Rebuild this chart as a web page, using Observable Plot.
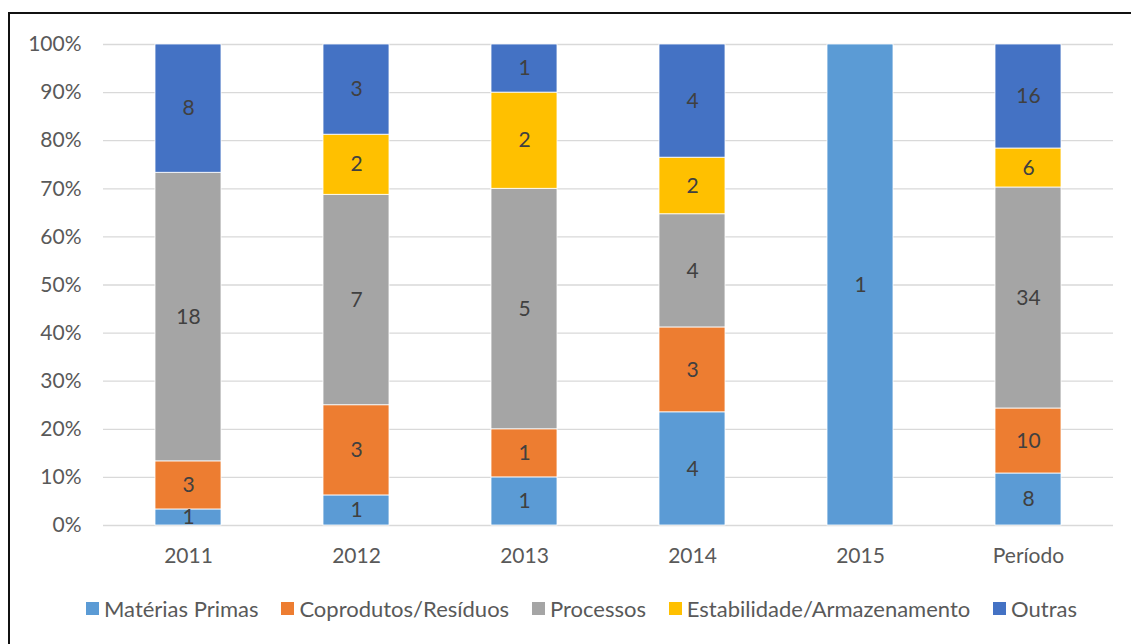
<!DOCTYPE html>
<html>
<head>
<meta charset="utf-8">
<script src="https://cdn.jsdelivr.net/npm/d3@7"></script>
<script src="https://cdn.jsdelivr.net/npm/@observablehq/plot@0.6"></script>
<style>
  html, body { margin: 0; padding: 0; background: #fff; }
  #wrap { position: relative; width: 1131px; height: 644px; overflow: hidden; font-family: Lato, "Open Sans", sans-serif; }
  #frame { position: absolute; left: 8px; top: 12px; right: -10px; bottom: -10px; border-left: 2px solid #111; border-top: 2px solid #111; }
  #chart { position: absolute; left: 0; top: 0; }
  #legend { position: absolute; left: 86px; top: 595px; width: 991px; display: flex; justify-content: space-between; align-items: center; font-size: 22px; color: #595959; }
  .item { display: flex; align-items: center; white-space: nowrap; }
  .sw { width: 13px; height: 13px; margin-right: 5px; display: inline-block; }
</style>
</head>
<body>
<div id="wrap">
  <div id="frame"></div>
  <div id="chart"></div>
  <div id="legend"></div>
</div>
<script>
// Categories (years plus the whole period) and the series stacked in each bar
const categories = ["2011", "2012", "2013", "2014", "2015", "Período"];
const series = ["Matérias Primas", "Coprodutos/Resíduos", "Processos", "Estabilidade/Armazenamento", "Outras"];
const colors = ["#5B9BD5", "#ED7D31", "#A5A5A5", "#FFC000", "#4472C4"];

// Counts per category, one array per series
const materiasPrimas = [1, 1, 1, 4, 1, 8];
const coprodutosResiduos = [3, 3, 1, 3, 0, 10];
const processos = [18, 7, 5, 4, 0, 34];
const estabilidadeArmazenamento = [0, 2, 2, 2, 0, 6];
const outras = [8, 3, 1, 4, 0, 16];

const yTicks = [0, 0.1, 0.2, 0.3, 0.4, 0.5, 0.6, 0.7, 0.8, 0.9, 1];

const seriesValues = [materiasPrimas, coprodutosResiduos, processos, estabilidadeArmazenamento, outras];
const data = [];
series.forEach((s, i) => {
  categories.forEach((c, j) => data.push({category: c, series: s, value: seriesValues[i][j]}));
});

const stackOpts = {x: "category", y: "value", z: "series", offset: "normalize", order: series};

const chart = Plot.plot({
  width: 1131,
  height: 580,
  marginTop: 44,
  marginBottom: 55,
  marginLeft: 103,
  marginRight: 18,
  style: {fontFamily: "Lato, 'Open Sans', sans-serif", fontSize: "21px", color: "#595959", background: "transparent"},
  x: {domain: categories, padding: 0, label: null, tickSize: 0, tickPadding: 23},
  y: {domain: [0, 1], ticks: yTicks, tickFormat: d3.format(".0%"), label: null, tickSize: 0, tickPadding: 22},
  color: {domain: series, range: colors},
  marks: [
    Plot.gridY(yTicks, {stroke: "#d9d9d9", strokeOpacity: 1, strokeWidth: 1.3}),
    Plot.barY(data, Plot.stackY({...stackOpts, fill: "series", insetLeft: 51, insetRight: 51, stroke: "#fff", strokeWidth: 0.8})),
    Plot.text(data, Plot.stackY({...stackOpts, filter: d => d.value > 0, text: "value", fill: "#404040", fontSize: 21}))
  ]
});
document.getElementById("chart").appendChild(chart);

// Legend built from the same series and colours
const legend = document.getElementById("legend");
series.forEach((s, i) => {
  const item = document.createElement("span");
  item.className = "item";
  const sw = document.createElement("span");
  sw.className = "sw";
  sw.style.background = colors[i];
  item.appendChild(sw);
  item.appendChild(document.createTextNode(s));
  legend.appendChild(item);
});
</script>
</body>
</html>
